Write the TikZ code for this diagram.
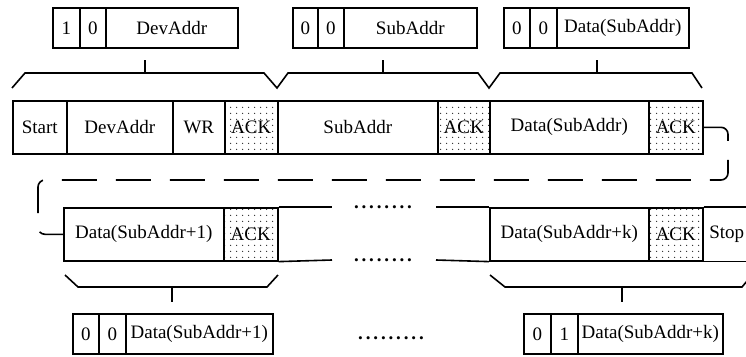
\documentclass[tikz,border=0pt]{standalone}
\usepackage{fontspec}
\setmainfont{Liberation Serif}
\usetikzlibrary{patterns.meta}

% sparse dot stipple used for the ACK fields
\tikzdeclarepattern{
  name=ackdots,
  type=colored,
  bottom left={(0pt,0pt)},
  top right={(6pt,6pt)},
  tile size={(6pt,6pt)},
  code={\fill[black!85] (3pt,3pt) circle (0.8pt);}
}

\tikzset{
  cell/.style={draw, line width=1.6pt, anchor=north west, inner sep=0pt,
    font=\fontsize{19}{22}\selectfont},
  ackcell/.style={cell, pattern=ackdots},
  frame/.style={line width=1.6pt},
  brace/.style={line width=1.6pt, line join=miter},
  link/.style={line width=1.6pt, dash pattern=on 35pt off 19pt, rounded corners=7pt},
  dotrow/.style={inner sep=0pt, anchor=base,
    font=\fontsize{19}{22}\selectfont\bfseries\addfontfeature{LetterSpace=15}}
}

\begin{document}
\begin{tikzpicture}[x=1pt,y=-1pt]
\useasboundingbox (0,0) rectangle (746,356);

% ---- field layouts above the frame ----
\node[cell, minimum width=27pt, minimum height=40pt] (t1a) at (52,7)  {1};
\node[cell, minimum width=26pt, minimum height=40pt] (t1b) at (79,7)  {0};
\node[cell, minimum width=132pt, minimum height=40pt] (t1c) at (105,7) {DevAddr};

\node[cell, minimum width=25pt, minimum height=40pt] (t2a) at (292,7) {0};
\node[cell, minimum width=26pt, minimum height=40pt] (t2b) at (317,7) {0};
\node[cell, minimum width=133pt, minimum height=40pt] (t2c) at (343,7) {SubAddr};

\node[cell, minimum width=26pt, minimum height=40pt] (t3a) at (503,7) {0};
\node[cell, minimum width=27pt, minimum height=40pt] (t3b) at (529,7) {0};
\node[cell, minimum width=132pt, minimum height=40pt] (t3c) at (556,7) {Data(SubAddr)};

% ---- upper braces ----
\draw[brace] (12,88) -- (25,73) -- (264,73) -- (277,88) -- (288,73) -- (478,73)
  -- (489,88) -- (500,73) -- (692,73) -- (702,88);
\draw[brace] (145,60) -- (145,73);
\draw[brace] (383,60) -- (383,73);
\draw[brace] (597,60) -- (597,73);

% ---- first line of the frame ----
\node[cell, minimum width=54pt, minimum height=53pt] (start) at (12,100) {Start};
\node[cell, minimum width=106pt, minimum height=53pt] (dev) at (66,100) {DevAddr};
\node[cell, minimum width=52pt, minimum height=53pt] (wr) at (172,100) {WR};
\node[ackcell, minimum width=53pt, minimum height=53pt] (ack1) at (224,100) {ACK};
\node[cell, minimum width=160pt, minimum height=53pt] (sub) at (277,100) {SubAddr};
\node[ackcell, minimum width=52pt, minimum height=53pt] (ack2) at (437,100) {ACK};
\node[cell, minimum width=159pt, minimum height=53pt] (dat) at (489,100) {Data(SubAddr)};
\node[ackcell, minimum width=54pt, minimum height=53pt] (ack3) at (648,100) {ACK};

% ---- continuation to the second line ----
\coordinate (c1) at (728,180);
\coordinate (c2) at (38,180);

% ---- second line of the frame ----
\node[cell, minimum width=160pt, minimum height=53pt] (d1) at (63,207) {Data(SubAddr+1)};
\node[ackcell, minimum width=54pt, minimum height=53pt] (ack4) at (223,207) {ACK};
\coordinate (o1) at (332,207);
\coordinate (o2) at (332,260);
\draw[frame] (ack4.north east) -- (o1);
\draw[frame] (ack4.south east) -- (o2);

\node[dotrow] (dots1) at (383,208) {........};
\node[dotrow] (dots2) at (383,261) {........};

\coordinate (o3) at (436,207);
\coordinate (o4) at (436,260);
\node[cell, minimum width=159pt, minimum height=53pt] (dk) at (489,207) {Data(SubAddr+k)};
\node[ackcell, minimum width=54pt, minimum height=53pt] (ack5) at (648,207) {ACK};
\node[cell, draw=none, minimum width=48pt, minimum height=53pt] (stop) at (702,207) {Stop};
\draw[frame] (o3) -- (dk.north west);
\draw[frame] (o4) -- (dk.south west);
\draw[frame] (ack5.north east) -- (stop.north east);
\draw[frame] (ack5.south east) -- (stop.south east);

\draw[link] (ack3.east) -| (c1) -- (c2) |- (d1.west);

% ---- lower braces ----
\draw[brace] (65,275) -- (78,287) -- (267,287) -- (278,275);
\draw[brace] (172,287) -- (172,302);
\draw[brace] (490,275) -- (505,287) -- (742,287) -- (752,275);
\draw[brace] (622,287) -- (622,302);

% ---- field layouts below the frame ----
\node[cell, minimum width=26pt, minimum height=40pt] (b1a) at (72,313) {0};
\node[cell, minimum width=27pt, minimum height=40pt] (b1b) at (98,313) {0};
\node[cell, minimum width=147pt, minimum height=40pt] (b1c) at (125,313) {Data(SubAddr+1)};

\node[dotrow] (dots3) at (391,339) {.........};

\node[cell, minimum width=27pt, minimum height=40pt] (b2a) at (523,313) {0};
\node[cell, minimum width=27pt, minimum height=40pt] (b2b) at (550,313) {1};
\node[cell, minimum width=145pt, minimum height=40pt] (b2c) at (577,313) {Data(SubAddr+k)};
\end{tikzpicture}
\end{document}
